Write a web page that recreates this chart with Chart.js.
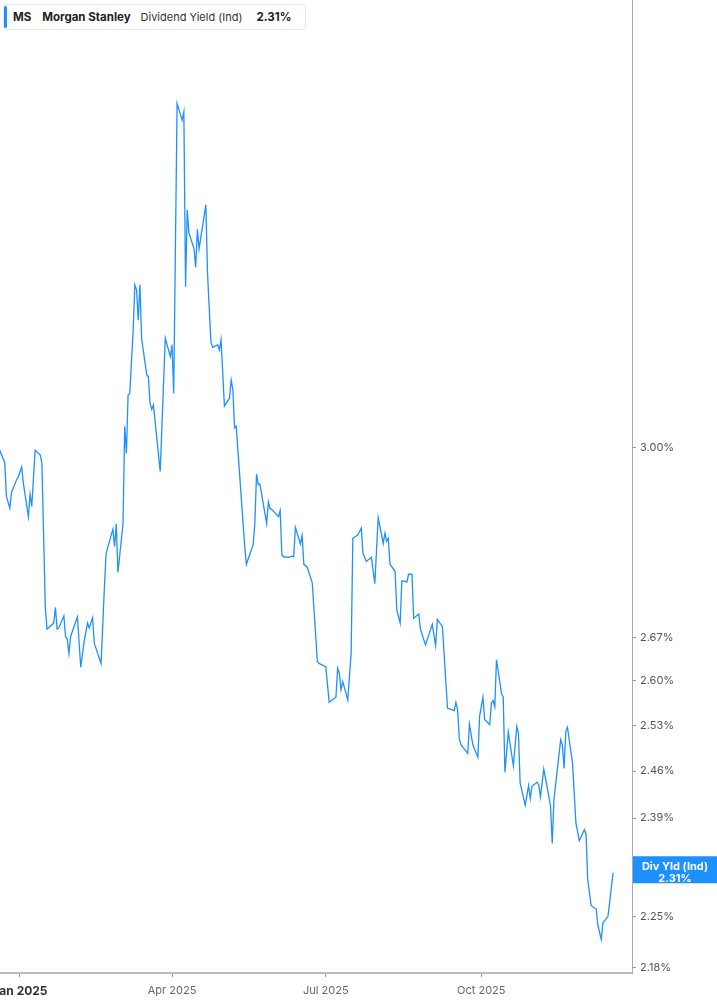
<!DOCTYPE html>
<html>
<head>
<meta charset="utf-8">
<title>MS Dividend Yield</title>
<script src="https://cdn.jsdelivr.net/npm/chart.js@4.4.1/dist/chart.umd.min.js"></script>
<style>
  body { margin: 0; background: #fff; font-family: Inter, "Noto Sans", sans-serif; }
  #wrap { position: relative; width: 717px; height: 1005px; }
  #legend {
    position: absolute; left: 3px; top: 4px; height: 26px; width: 303px;
    box-sizing: border-box; border: 1px solid #e6e6e6; border-radius: 3px;
    background: #fff; display: flex; align-items: center;
    color: #222; white-space: nowrap;
  }
  #legend > * { flex-shrink: 0; }
  #legend .bar { width: 3px; height: 22px; background: #1e90ff; border-radius: 2px; margin-right: 6px; }
  #legend .b { font-weight: 700; font-size: 11.5px; }
  #legend .n { font-weight: 400; font-size: 11px; color: #333; }
</style>
</head>
<body>
<div id="wrap">
  <canvas id="chart" width="717" height="1005"></canvas>
  <div id="legend">
    <div class="bar"></div>
    <span class="b" style="margin-right:11px">MS</span>
    <span class="b" style="margin-right:10px">Morgan Stanley</span>
    <span class="n" style="margin-right:14px">Dividend Yield (Ind)</span>
    <span class="b" id="lastVal"></span>
  </div>
</div>
<script>
// daily dividend yield (%)
var dates = [
  '2024-12-20','2024-12-23','2024-12-24','2024-12-26','2024-12-27','2024-12-30','2024-12-31',
  '2025-01-02','2025-01-03','2025-01-06','2025-01-07','2025-01-08','2025-01-10','2025-01-13','2025-01-14',
  '2025-01-16','2025-01-17','2025-01-21','2025-01-22','2025-01-23','2025-01-24','2025-01-27','2025-01-28',
  '2025-01-29','2025-01-30','2025-01-31',
  '2025-02-04','2025-02-06','2025-02-08','2025-02-10','2025-02-11','2025-02-13','2025-02-14','2025-02-18',
  '2025-02-20','2025-02-21','2025-02-25','2025-02-26','2025-02-27','2025-02-28',
  '2025-03-03','2025-03-04','2025-03-05','2025-03-06','2025-03-07','2025-03-09','2025-03-10','2025-03-11',
  '2025-03-12','2025-03-13','2025-03-14','2025-03-17','2025-03-18','2025-03-19','2025-03-20','2025-03-21',
  '2025-03-25','2025-03-28','2025-03-31',
  '2025-04-01','2025-04-02','2025-04-04','2025-04-07','2025-04-08','2025-04-09','2025-04-10','2025-04-11',
  '2025-04-14','2025-04-15','2025-04-16','2025-04-17','2025-04-21','2025-04-22','2025-04-24','2025-04-25',
  '2025-04-28','2025-04-29','2025-04-30',
  '2025-05-02','2025-05-05','2025-05-06','2025-05-07','2025-05-08','2025-05-09','2025-05-14','2025-05-15',
  '2025-05-19','2025-05-20','2025-05-21','2025-05-22','2025-05-23','2025-05-27','2025-05-28','2025-05-29',
  '2025-05-30',
  '2025-06-03','2025-06-04','2025-06-05','2025-06-06','2025-06-09','2025-06-11','2025-06-12','2025-06-13',
  '2025-06-16','2025-06-17','2025-06-18','2025-06-20','2025-06-23','2025-06-26','2025-06-27',
  '2025-07-01','2025-07-03','2025-07-07','2025-07-08','2025-07-09','2025-07-10','2025-07-11','2025-07-14',
  '2025-07-16','2025-07-17','2025-07-20','2025-07-22','2025-07-23','2025-07-25','2025-07-28','2025-07-30',
  '2025-08-01','2025-08-04','2025-08-05','2025-08-06','2025-08-07','2025-08-08','2025-08-11','2025-08-12',
  '2025-08-14','2025-08-15','2025-08-18','2025-08-19','2025-08-21','2025-08-22','2025-08-25','2025-08-26',
  '2025-08-29',
  '2025-09-02','2025-09-04','2025-09-05','2025-09-08','2025-09-11','2025-09-15','2025-09-16','2025-09-17',
  '2025-09-18','2025-09-19','2025-09-22','2025-09-23','2025-09-24','2025-09-26','2025-09-29','2025-09-30',
  '2025-10-02','2025-10-03','2025-10-06','2025-10-07','2025-10-08','2025-10-09','2025-10-10','2025-10-13',
  '2025-10-14','2025-10-15','2025-10-17','2025-10-20','2025-10-22','2025-10-23','2025-10-24','2025-10-27',
  '2025-10-29','2025-10-30','2025-10-31',
  '2025-11-03','2025-11-04','2025-11-05','2025-11-07','2025-11-10','2025-11-11','2025-11-12','2025-11-13',
  '2025-11-17','2025-11-18','2025-11-19','2025-11-20','2025-11-21','2025-11-24','2025-11-26','2025-11-28',
  '2025-12-01','2025-12-02','2025-12-03','2025-12-05','2025-12-08','2025-12-09','2025-12-11','2025-12-12',
  '2025-12-15','2025-12-18'
];
var yields = [
  2.996, 2.973, 2.912, 2.891, 2.919, 2.942, 2.947,
  2.965, 2.936, 2.876, 2.916, 2.894, 2.996, 2.987, 2.972,
  2.721, 2.684, 2.694, 2.720, 2.684, 2.686, 2.706, 2.671,
  2.668, 2.644, 2.672,
  2.704, 2.622, 2.664, 2.694, 2.686, 2.703, 2.661, 2.628,
  2.755, 2.812, 2.854, 2.824, 2.863, 2.779,
  2.864, 3.040, 2.990, 3.099, 3.102, 3.225, 3.316, 3.306,
  3.245, 3.316, 3.209, 3.138, 3.134, 3.083, 3.072, 3.080,
  2.957, 3.209, 3.173,
  3.196, 3.102, 3.707, 3.669, 3.688, 3.312, 3.472, 3.423,
  3.391, 3.352, 3.431, 3.390, 3.483, 3.340, 3.202, 3.191,
  3.196, 3.186, 3.206,
  3.078, 3.093, 3.128, 3.109, 3.037, 3.040, 2.824, 2.793,
  2.827, 2.864, 2.952, 2.933, 2.934, 2.864, 2.902, 2.890,
  2.889,
  2.876, 2.887, 2.809, 2.806, 2.805, 2.807, 2.806, 2.857,
  2.828, 2.843, 2.793, 2.788, 2.761, 2.631, 2.628,
  2.623, 2.566, 2.574, 2.620, 2.612, 2.586, 2.599, 2.570,
  2.645, 2.838, 2.844, 2.856, 2.812, 2.798, 2.805, 2.760,
  2.874, 2.829, 2.847, 2.833, 2.838, 2.793, 2.781, 2.716,
  2.694, 2.765, 2.763, 2.776, 2.776, 2.702, 2.709, 2.684,
  2.658,
  2.692, 2.657, 2.700, 2.688, 2.557, 2.553, 2.566, 2.554,
  2.509, 2.500, 2.490, 2.487, 2.532, 2.500, 2.481, 2.544,
  2.574, 2.539, 2.531, 2.565, 2.569, 2.559, 2.634, 2.580,
  2.574, 2.458, 2.520, 2.468, 2.528, 2.518, 2.442, 2.409,
  2.438, 2.419, 2.437,
  2.443, 2.439, 2.421, 2.463, 2.422, 2.407, 2.353, 2.417,
  2.508, 2.500, 2.464, 2.520, 2.527, 2.472, 2.383, 2.357,
  2.373, 2.366, 2.301, 2.265, 2.260, 2.238, 2.218, 2.241,
  2.250, 2.311
];
var yTicks = [2.18, 2.25, 2.39, 2.46, 2.53, 2.60, 2.67, 3.00];
var xTickDates = ['2025-01-01', '2025-04-01', '2025-07-01', '2025-10-01'];
var xTickLabels = ['Jan 2025', 'Apr 2025', 'Jul 2025', 'Oct 2025'];

var BLUE = '#1e90ff';
var T0 = Date.UTC(2025, 0, 1);
function toDay(s) {
  var p = s.split('-');
  return (Date.UTC(+p[0], +p[1] - 1, +p[2]) - T0) / 86400000;
}

var points = dates.map(function (d, i) { return { x: toDay(d), y: yields[i] }; });
var last = yields[yields.length - 1];
document.getElementById('lastVal').textContent = last.toFixed(2) + '%';

var lastLabel = {
  id: 'lastLabel',
  afterDraw: function (chart) {
    var c = chart.ctx, y = chart.scales.y.getPixelForValue(last);
    var left = chart.chartArea.right + 1, w = chart.width - left, h = 27;
    c.save();
    c.fillStyle = BLUE;
    c.fillRect(left, y - h / 2 - 3, w, h);
    c.fillStyle = '#fff';
    c.font = 'bold 11px Inter, sans-serif';
    c.textAlign = 'center';
    c.textBaseline = 'middle';
    c.fillText('Div Yld (Ind)', left + w / 2, y - 6);
    c.fillText(last.toFixed(2) + '%', left + w / 2, y + 5.5);
    c.restore();
  }
};

new Chart(document.getElementById('chart'), {
  type: 'line',
  data: {
    datasets: [{
      data: points,
      borderColor: BLUE,
      borderWidth: 1.3,
      pointRadius: 0,
      tension: 0,
      fill: false
    }]
  },
  options: {
    responsive: false,
    animation: false,
    layout: { padding: 0 },
    plugins: { legend: { display: false }, tooltip: { enabled: false } },
    scales: {
      x: {
        type: 'linear',
        min: -11.8,
        max: 362.2,
        border: { color: '#bbb', width: 2 },
        grid: { drawOnChartArea: false, drawTicks: true, tickLength: 4, tickColor: '#999' },
        afterBuildTicks: function (s) {
          s.ticks = xTickDates.map(function (d) { return { value: toDay(d) }; });
        },
        afterFit: function (s) { s.height = 32; s.paddingLeft = 0; s.paddingRight = 0; },
        ticks: {
          autoSkip: false,
          maxRotation: 0,
          padding: 7,
          color: function (ctx) { return ctx.index === 0 ? '#333' : '#666'; },
          font: function (ctx) {
            return ctx.index === 0
              ? { family: 'Inter', size: 12, weight: 'bold' }
              : { family: 'Inter', size: 11 };
          },
          callback: function (v, i) { return xTickLabels[i]; }
        }
      },
      y: {
        type: 'logarithmic',
        position: 'right',
        min: 2.173,
        max: 3.95,
        border: { color: '#aaa', width: 1 },
        grid: { drawOnChartArea: false, drawTicks: true, tickLength: 4, tickColor: '#999' },
        afterBuildTicks: function (s) {
          s.ticks = yTicks.map(function (v) { return { value: v }; });
        },
        afterFit: function (s) { s.width = 85; s.paddingTop = 0; s.paddingBottom = 0; },
        ticks: {
          autoSkip: false,
          padding: 4,
          color: '#555',
          font: { family: 'Inter', size: 11 },
          callback: function (v) { return Number(v).toFixed(2) + '%'; }
        }
      }
    }
  },
  plugins: [lastLabel]
});
</script>
</body>
</html>
